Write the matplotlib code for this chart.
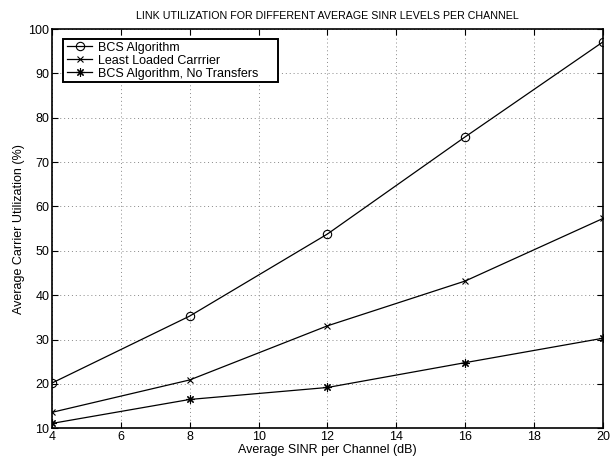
import matplotlib
matplotlib.use("Agg")
import matplotlib.pyplot as plt
from matplotlib.patches import Rectangle

plt.rcParams['font.family'] = ['Liberation Sans', 'DejaVu Sans']

sinr = [4, 8, 12, 16, 20]
bcs = [20.2, 35.3, 53.8, 75.7, 97.1]
llc = [13.6, 20.9, 33.1, 43.2, 57.3]
bnt = [11.1, 16.5, 19.2, 24.8, 30.3]
xticks = [4, 6, 8, 10, 12, 14, 16, 18, 20]
yticks = [10, 20, 30, 40, 50, 60, 70, 80, 90, 100]

fig = plt.figure(figsize=(6.13, 4.59), dpi=100)
ax = fig.add_axes([0.0848, 0.0669, 0.8989, 0.8699])

ax.plot(sinr, bcs, '-', color='black', lw=0.9, marker='o', mfc='none', ms=6, mew=0.8, label='BCS Algorithm')
ax.plot(sinr, llc, '-', color='black', lw=0.9, marker='x', ms=5, mew=0.8, label='Least Loaded Carrrier')
ax.plot(sinr, bnt, '-', color='black', lw=0.9, marker=(8, 2, 0), ms=6, mew=0.8, label='BCS Algorithm, No Transfers')

ax.set_xlim(4, 20)
ax.set_ylim(10, 100)
ax.set_xticks(xticks)
ax.set_yticks(yticks)
ax.grid(True, linestyle=(0, (1, 3)), color='#888888', lw=0.7)
ax.tick_params(direction='in', top=True, right=True, length=4, labelsize=9, pad=2)
for s in ax.spines.values():
    s.set_linewidth(1.2)

ax.set_xlabel('Average SINR per Channel (dB)', fontsize=9, labelpad=1)
ax.set_ylabel('Average Carrier Utilization (%)', fontsize=9, labelpad=2)
ax.set_title('LINK UTILIZATION FOR DIFFERENT AVERAGE SINR LEVELS PER CHANNEL', fontsize=7.7, pad=7)

leg = ax.legend(loc='upper left', fontsize=9, frameon=False,
                handlelength=2.0, borderpad=0.22, borderaxespad=0.0,
                labelspacing=0.08, handletextpad=0.45,
                bbox_to_anchor=(0.0225, 0.975))
leg.set_zorder(6)

fig.canvas.draw()
bb = leg.get_window_extent(fig.canvas.get_renderer())
inv = ax.transAxes.inverted()
x0, y0 = inv.transform((bb.x0 - 1, bb.y0))
x1, y1 = inv.transform((bb.x1 + 17, bb.y1))
ax.add_patch(Rectangle((x0, y0), x1 - x0, y1 - y0, transform=ax.transAxes,
                       facecolor='white', edgecolor='black', lw=1.4, zorder=5, clip_on=False))

fig.savefig('out.png', dpi=100)
